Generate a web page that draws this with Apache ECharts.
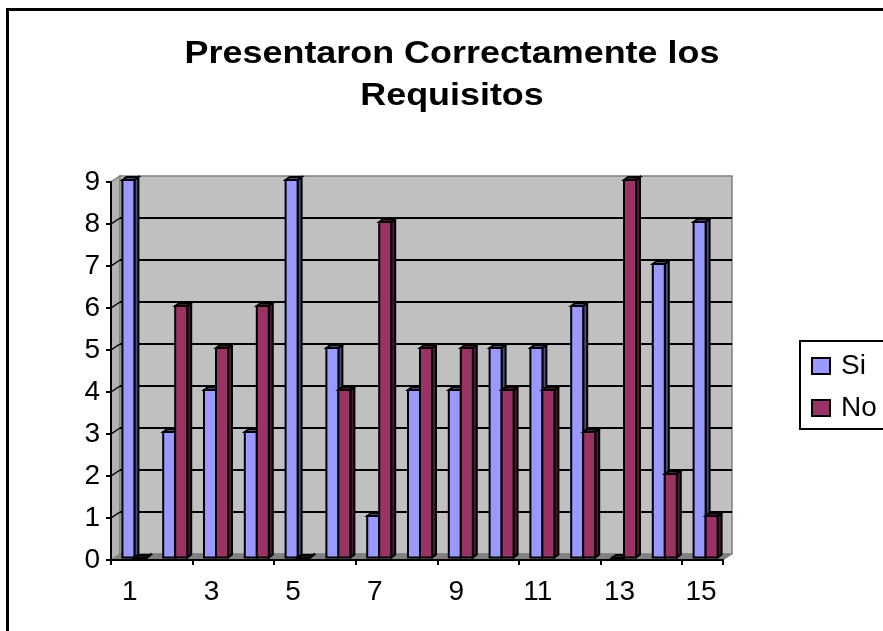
<!DOCTYPE html>
<html>
<head>
<meta charset="utf-8">
<title>Presentaron Correctamente los Requisitos</title>
<script src="https://cdn.jsdelivr.net/npm/echarts@6/dist/echarts.min.js"></script>
<style>
html, body { margin: 0; padding: 0; background: #fff; }
#main { width: 883px; height: 631px; }
</style>
</head>
<body>
<div id="main"></div>
<script>
var titleText = 'Presentaron Correctamente los\nRequisitos'
var categories = ['1', '2', '3', '4', '5', '6', '7', '8', '9', '10', '11', '12', '13', '14', '15']
var si = [9, 3, 4, 3, 9, 5, 1, 4, 4, 5, 5, 6, 0, 7, 8]
var no = [0, 6, 5, 6, 0, 4, 8, 5, 5, 4, 4, 3, 9, 2, 1]
var gridTicks = [1, 2, 3, 4, 5, 6, 7, 8]

// profundidad de la pared del fondo y de las barras, en px
var wallDx = 9, wallDy = 6
var barDx = 4, barDy = 3
var barW = 12
var font = '"Liberation Sans", Arial, sans-serif'

function poly(points, fill) {
    return {
        type: 'polygon',
        shape: { points: points },
        style: { fill: fill, stroke: '#000', lineWidth: 2, lineJoin: 'miter' }
    }
}

function renderWalls(params, api) {
    var s = params.coordSys
    var l = s.x, r = s.x + s.width, b = s.y + s.height
    var top = api.coord([0, 9])[1]
    var kids = [
        // pared izquierda
        { type: 'polygon', shape: { points: [[l, b], [l + wallDx, b - wallDy], [l + wallDx, top - wallDy], [l, top]] },
          style: { fill: '#b2b2b2', stroke: '#808080', lineWidth: 1.5 } },
        // fondo
        { type: 'rect', shape: { x: l + wallDx, y: top - wallDy, width: s.width, height: b - top },
          style: { fill: '#c0c0c0', stroke: '#808080', lineWidth: 1.5 } },
        // piso
        { type: 'polygon', shape: { points: [[l, b], [l + wallDx, b - wallDy], [r + wallDx, b - wallDy], [r, b]] },
          style: { fill: '#808080', stroke: '#808080', lineWidth: 1 } }
    ]
    gridTicks.forEach(function (v) {
        var y = api.coord([0, v])[1]
        kids.push({ type: 'line', shape: { x1: l + wallDx, y1: y - wallDy, x2: r + wallDx, y2: y - wallDy },
            style: { stroke: '#000', lineWidth: 2 } })
        kids.push({ type: 'line', shape: { x1: l, y1: y, x2: l + wallDx, y2: y - wallDy },
            style: { stroke: '#000', lineWidth: 1.5 } })
    })
    return { type: 'group', children: kids }
}

function renderBar(side, front, dark) {
    return function (params, api) {
        var p = api.coord([api.value(0), api.value(1)])
        var base = api.coord([api.value(0), 0])
        var x = p[0] + 3 + (side < 0 ? -barW : 0)
        var x2 = x + barW
        var y = p[1] - 2, yb = base[1] - 2.5
        return {
            type: 'group',
            children: [
                poly([[x2, y], [x2 + barDx, y - barDy], [x2 + barDx, yb - barDy], [x2, yb]], dark),
                poly([[x, y], [x + barDx, y - barDy], [x2 + barDx, y - barDy], [x2, y]], dark),
                poly([[x, y], [x2, y], [x2, yb], [x, yb]], front)
            ]
        }
    }
}

function barData(values) {
    return values.map(function (v, i) { return [i, v] })
}

var chart = echarts.init(document.getElementById('main'), null, { renderer: 'canvas' })
chart.setOption({
    animation: false,
    backgroundColor: '#fff',
    textStyle: { fontFamily: font },
    legend: {
        left: 800,
        top: 341,
        orient: 'vertical',
        padding: [11, 20, 7, 11],
        itemGap: 14,
        itemWidth: 18,
        itemHeight: 16,
        icon: 'rect',
        borderColor: '#000',
        borderWidth: 2,
        backgroundColor: '#fff',
        textStyle: { fontSize: 28, color: '#000', fontFamily: font, padding: [0, 0, 0, 6] },
        data: ['Si', 'No']
    },
    grid: { left: 111, top: 182, width: 612, height: 378 },
    xAxis: {
        type: 'category',
        data: categories,
        axisLine: { lineStyle: { color: '#000', width: 2 } },
        axisTick: { show: true, length: 5, lineStyle: { color: '#000', width: 2 } },
        axisLabel: { interval: 1, fontSize: 28, color: '#000', margin: 18, padding: [0, 3, 0, 0] },
        z: 5
    },
    yAxis: {
        type: 'value',
        min: 0,
        max: 9,
        interval: 1,
        splitLine: { show: false },
        axisLine: { show: true, lineStyle: { color: '#000', width: 2 } },
        axisTick: { show: true, length: 5, lineStyle: { color: '#000', width: 2 } },
        axisLabel: { fontSize: 28, color: '#000', margin: 11 },
        z: 5
    },
    graphic: [{
        type: 'polyline',
        silent: true,
        shape: { points: [[7.5, 631], [7.5, 9.5], [883, 9.5]] },
        style: { fill: 'none', stroke: '#000', lineWidth: 3 }
    }, {
        // el titulo del original esta algo ensanchado
        type: 'text',
        silent: true,
        x: 452,
        y: 33,
        scaleX: 1.122,
        style: {
            text: titleText,
            font: 'bold 32px ' + font,
            lineHeight: 42,
            fill: '#000',
            textAlign: 'center',
            textVerticalAlign: 'top'
        }
    }],
    series: [
        { type: 'custom', silent: true, z: 1, renderItem: renderWalls, data: [[0, 0]], encode: { x: 0, y: 1 } },
        { name: 'Si', type: 'custom', z: 2, renderItem: renderBar(-1, '#9999ff', '#4c4c80'), data: barData(si), encode: { x: 0, y: 1 },
          itemStyle: { color: '#9999ff', borderColor: '#000', borderWidth: 2 } },
        { name: 'No', type: 'custom', z: 2, renderItem: renderBar(1, '#993366', '#4c1933'), data: barData(no), encode: { x: 0, y: 1 },
          itemStyle: { color: '#993366', borderColor: '#000', borderWidth: 2 } }
    ]
})
</script>
</body>
</html>
